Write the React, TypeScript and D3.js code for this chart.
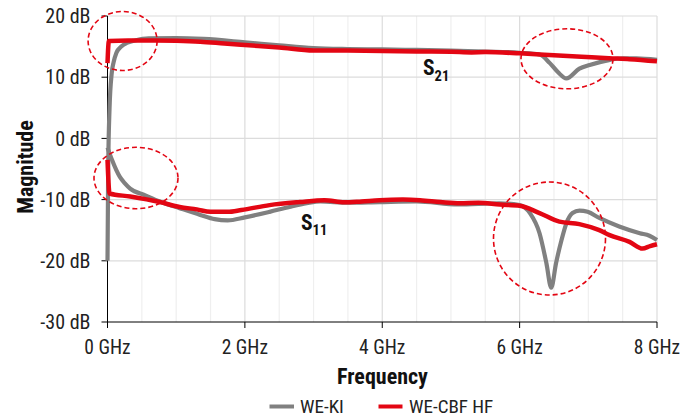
import React from "react";
import * as d3 from "d3";

const xTicks = [0, 2, 4, 6, 8];
const xMinor = [0.5, 1, 1.5, 2.5, 3, 3.5, 4.5, 5, 5.5, 6.5, 7, 7.5];
const yTicks = [20, 10, 0, -10, -20, -30];

const s21Ki: [number, number][] = [
  [0, -20], [0.01, -5], [0.03, 5], [0.06, 10.5], [0.09, 12.5], [0.13, 14], [0.2, 15], [0.28, 15.6],
  [0.4, 16.0], [0.6, 16.35], [1.0, 16.4], [1.4, 16.25], [2.0, 15.7], [2.5, 15.2], [3.0, 14.75],
  [3.5, 14.6], [4.0, 14.55], [4.5, 14.45], [5.0, 14.35], [5.5, 14.2], [6.0, 14.0], [6.29, 13.7],
  [6.44, 12.3], [6.56, 10.8], [6.68, 9.8], [6.87, 11.4], [7.02, 12.0], [7.3, 12.8], [7.5, 13.1],
  [7.7, 13.1], [8.0, 12.85],
];
const s21Cbf: [number, number][] = [
  [0, 12.3], [0.02, 15.9], [0.3, 16.0], [0.7, 16.0], [1.0, 15.95], [1.35, 15.8], [1.7, 15.5],
  [2.0, 15.25], [2.5, 14.85], [3.0, 14.35], [3.5, 14.35], [4.0, 14.3], [4.5, 14.2], [5.0, 14.15],
  [5.3, 14.05], [5.5, 14.1], [6.0, 13.9], [6.5, 13.6], [6.9, 13.35], [7.3, 13.1], [7.6, 12.95],
  [8.0, 12.6],
];
const s11Ki: [number, number][] = [
  [0, -1.5], [0.065, -3.5], [0.18, -6.3], [0.25, -7.3], [0.33, -8.2], [0.55, -9.3], [0.76, -10.3],
  [1.05, -11.4], [1.35, -12.5], [1.56, -13.2], [1.75, -13.4], [2.0, -12.9], [2.36, -12.0],
  [2.65, -11.2], [2.9, -10.6], [3.1, -10.3], [3.5, -10.5], [3.96, -10.4], [4.5, -10.3],
  [5.1, -10.8], [5.7, -10.6], [6.0, -10.9], [6.15, -12.2], [6.29, -15.5], [6.39, -20.4],
  [6.46, -24.4], [6.53, -20.4], [6.61, -16.6], [6.68, -13.9], [6.77, -12.2], [6.87, -11.8],
  [6.99, -12.0], [7.16, -13.0], [7.45, -14.4], [7.75, -15.5], [7.89, -15.9], [8.0, -16.6],
];
const s11Cbf: [number, number][] = [
  [0, -3.5], [0.03, -9.0], [0.33, -9.5], [0.76, -10.4], [1.05, -11.2], [1.3, -11.6], [1.5, -12.0],
  [1.75, -12.0], [1.95, -11.7], [2.36, -10.9], [2.8, -10.4], [3.16, -10.1], [3.45, -10.45],
  [3.7, -10.3], [3.96, -10.1], [4.3, -10.0], [4.55, -10.1], [4.85, -10.4], [5.13, -10.6],
  [5.4, -10.5], [5.71, -10.8], [6.0, -11.0], [6.29, -12.2], [6.58, -13.6], [6.87, -14.0],
  [7.16, -15.0], [7.31, -15.8], [7.6, -16.9], [7.79, -18.0], [7.9, -17.6], [8.0, -17.3],
];

const legendNames = ["WE-KI", "WE-CBF HF"];

const GRAY = "#808080";
const RED = "#e30613";
const FONT = "'Liberation Sans Narrow', 'Roboto Condensed', 'DejaVu Sans Condensed', 'Liberation Sans', sans-serif";

export default function App() {
  const W = 693, H = 417;
  const x = d3.scaleLinear().domain([0, 8]).range([107.5, 657]);
  const y = d3.scaleLinear().domain([-30, 20]).range([322, 16]);
  const line = d3
    .line<[number, number]>()
    .x((d) => x(d[0]))
    .y((d) => y(d[1]))
    .curve(d3.curveMonotoneX);

  return (
    <svg width={W} height={H} style={{ position: "absolute", left: 0, top: 0, background: "#fff" }}>
      <rect width={W} height={H} fill="#fff" />
      {xMinor.map((v) => (
        <line key={"mv" + v} x1={x(v)} x2={x(v)} y1={y(20)} y2={y(-30)} stroke="#efefef" strokeWidth={1.2} />
      ))}
      {xTicks.slice(1).map((v) => (
        <line key={"Mv" + v} x1={x(v)} x2={x(v)} y1={y(20)} y2={y(-30)} stroke="#dcdcdc" strokeWidth={1.2} />
      ))}
      {yTicks.slice(0, -1).map((v) => (
        <line key={"hg" + v} x1={x(0)} x2={x(8)} y1={y(v)} y2={y(v)} stroke="#dcdcdc" strokeWidth={1.2} />
      ))}
      <line x1={x(0)} x2={x(0)} y1={y(20)} y2={y(-30)} stroke="#000" strokeWidth={1} />
      <line x1={x(0)} x2={x(8)} y1={y(-30)} y2={y(-30)} stroke="#000" strokeWidth={1} />
      {yTicks.map((v) => (
        <g key={"yt" + v}>
          <line x1={x(0) - 6} x2={x(0)} y1={y(v)} y2={y(v)} stroke="#000" strokeWidth={1} />
          <text x={x(0) - 17} y={y(v)} dy="0.36em" textAnchor="end" fontFamily={FONT} fontSize={20} fill="#222">
            {v} dB
          </text>
        </g>
      ))}
      {xTicks.map((v) => (
        <g key={"xt" + v}>
          <line x1={x(v)} x2={x(v)} y1={y(-30)} y2={y(-30) + 6} stroke="#000" strokeWidth={1} />
          <text x={x(v)} y={353.5} textAnchor="middle" fontFamily={FONT} fontSize={19.5} fill="#222">
            {v} GHz
          </text>
        </g>
      ))}
      <path d={line(s21Ki) || ""} fill="none" stroke={GRAY} strokeWidth={4.2} strokeLinejoin="round" />
      <path d={line(s11Ki) || ""} fill="none" stroke={GRAY} strokeWidth={4.2} strokeLinejoin="round" />
      <path d={line(s21Cbf) || ""} fill="none" stroke={RED} strokeWidth={4.5} strokeLinejoin="round" />
      <path d={line(s11Cbf) || ""} fill="none" stroke={RED} strokeWidth={4.5} strokeLinejoin="round" />
      {[
        [122.6, 41, 34.5, 29.5],
        [136, 178, 42, 30.7],
        [567, 58.8, 46, 30],
        [549.5, 238.5, 56, 56.5],
      ].map((e, i) => (
        <ellipse key={"el" + i} cx={e[0]} cy={e[1]} rx={e[2]} ry={e[3]} fill="none" stroke={RED} strokeWidth={1.6} strokeDasharray="5,3" />
      ))}
      <text x={423} y={75} fontFamily={FONT} fontWeight="bold" fontSize={21.5} fill="#111">
        S<tspan fontSize={14.5} dy={6}>21</tspan>
      </text>
      <text x={301} y={230} fontFamily={FONT} fontWeight="bold" fontSize={21.5} fill="#111">
        S<tspan fontSize={14.5} dy={4.5}>11</tspan>
      </text>
      <text x={382.5} y={383.5} textAnchor="middle" fontFamily={FONT} fontWeight="bold" fontSize={22} fill="#111">
        Frequency
      </text>
      <text transform="translate(33,167) rotate(-90)" textAnchor="middle" fontFamily={FONT} fontWeight="bold" fontSize={22} fill="#111">
        Magnitude
      </text>
      <line x1={269.5} x2={294} y1={406.5} y2={406.5} stroke={GRAY} strokeWidth={4} />
      <text x={300} y={413} fontFamily={FONT} fontSize={19} fill="#222">{legendNames[0]}</text>
      <line x1={378.5} x2={402.5} y1={406.5} y2={406.5} stroke={RED} strokeWidth={4} />
      <text x={409} y={413} fontFamily={FONT} fontSize={19} fill="#222">{legendNames[1]}</text>
    </svg>
  );
}
